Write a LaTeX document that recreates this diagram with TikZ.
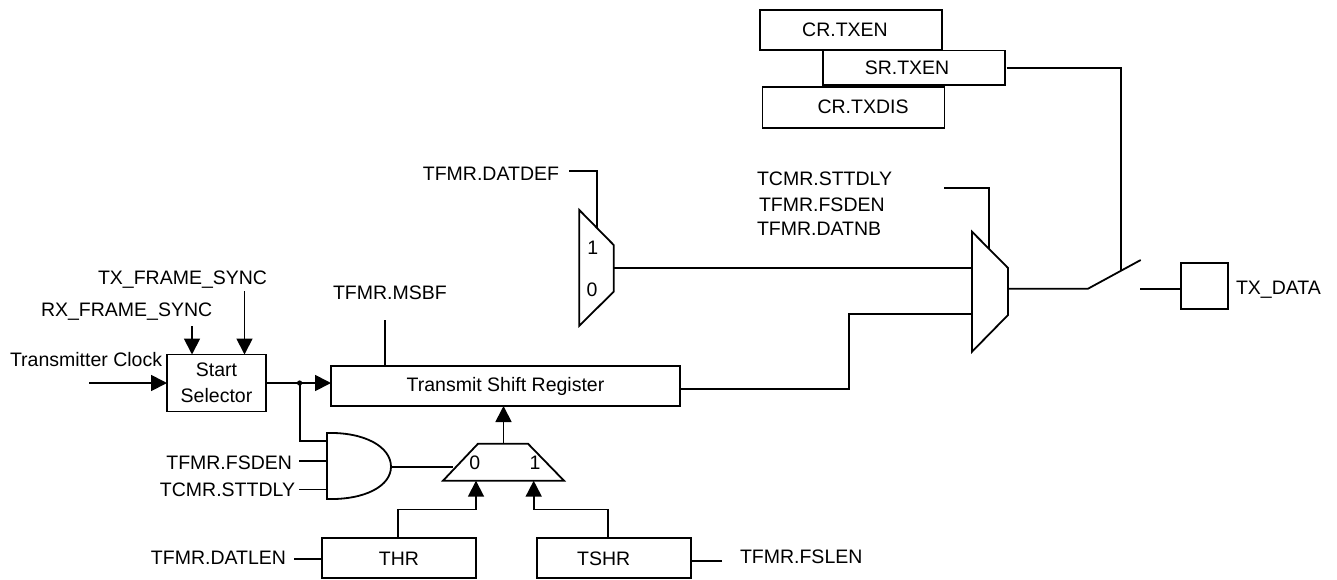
\documentclass[tikz,border=0pt]{standalone}
\usepackage{fontspec}
\setmainfont{Liberation Sans}
\usetikzlibrary{arrows.meta, positioning, calc}

\begin{document}
\begin{tikzpicture}[
  x=1pt, y=-1pt,
  line width=1.8pt,
  every node/.style={inner sep=0pt, outer sep=0pt, font=\fontsize{19.5}{24.5}\selectfont},
  regbox/.style={draw, align=center, minimum height=40pt, minimum width=182pt},
  sigtext/.style={text height=14pt, text depth=0pt},
  arrow/.style={-{Triangle[length=16pt, width=16pt]}},
  ]
  \useasboundingbox (0,0) rectangle (1337,579);

  % Enable registers
  \node[regbox] (crtxen) at (851,30) {\hspace*{-12pt}CR.TXEN};
  \node[regbox, minimum height=34.5pt] (srtxen) at (914,67.7) {\hspace*{-14pt}SR.TXEN};
  \node[regbox, minimum height=41pt] (crtxdis) at (853.5,107.2) {\hspace*{19pt}CR.TXDIS};

  % Start selector and its inputs
  \node[regbox, minimum width=99pt, minimum height=57pt, font=\fontsize{19.5}{25.5}\selectfont] (selector) at (216.5,383) {Start\\Selector};
  \node[sigtext, anchor=west] (clock) at (10,359) {Transmitter Clock};
  \node[sigtext, anchor=west] (rxsync) at (41,309) {RX\_FRAME\_SYNC};
  \node[sigtext, anchor=west] (txsync) at (98,277) {TX\_FRAME\_SYNC};

  % Shift register
  \node[regbox, right=65pt of selector, yshift=-3pt, minimum width=349pt] (shiftreg) {Transmit Shift Register};
  \node[sigtext, anchor=west] (msbf) at (333,292.7) {TFMR.MSBF};

  % Holding registers
  \node[regbox, minimum width=154pt] (thr) at (399,558.3) {THR};
  \node[regbox, right=60.7pt of thr, minimum width=154pt] (tshr) {\hspace*{-20pt}TSHR};
  \node[sigtext, anchor=east] (datlen) at (286,557.7) {TFMR.DATLEN};
  \node[sigtext, anchor=west] (fslen) at (740,556.5) {TFMR.FSLEN};

  % Gate inputs
  \node[sigtext, anchor=east] (fsden) at (292,462.7) {TFMR.FSDEN};
  \node[sigtext, anchor=east] (sttdly) at (295,489.3) {TCMR.STTDLY};

  % Upper labels
  \node[sigtext, anchor=east] (datdef) at (559,173.3) {TFMR.DATDEF};
  \node[sigtext, anchor=west] (muxsttdly) at (757,178.3) {TCMR.STTDLY};
  \node[sigtext, anchor=west] (muxfsden) at (759,204.3) {TFMR.FSDEN};
  \node[sigtext, anchor=west] (muxdatnb) at (757,228) {TFMR.DATNB};

  % Output pin
  \node[draw, minimum width=46.7pt, minimum height=46pt] (pin) at (1204.7,285.7) {};
  \node[sigtext, right=8pt of pin, yshift=-2pt] (txdata) {TX\_DATA};

  % AND gate
  \coordinate (andtop) at (327,433);
  \coordinate (andbot) at (327,499);
  \coordinate (andout) at (391,466.7);
  \draw (andtop) .. controls (365,432) and (391,447) .. (andout) .. controls (391,486) and (365,500) .. (andbot) -- cycle;

  % Length mux
  \coordinate (lena) at (478,443.7);
  \coordinate (lenb) at (528,443.7);
  \coordinate (lenc) at (564,480.7);
  \coordinate (lend) at (443,480.7);
  \draw (lena) -- (lenb) -- (lenc) -- (lend) -- cycle;
  \node (lenzero) at (474.7,462.7) {0};
  \node (lenone) at (535,462.7) {1};

  % Default data mux
  \coordinate (defa) at (579.3,210);
  \coordinate (defb) at (613.7,245);
  \coordinate (defc) at (613.7,291.7);
  \coordinate (defd) at (579.3,325.7);
  \draw (defa) -- (defb) -- (defc) -- (defd) -- cycle;
  \node (defone) at (592.7,248) {1};
  \node (defzero) at (592,290) {0};

  % Output mux
  \coordinate (outa) at (972,231.7);
  \coordinate (outb) at (1008,268);
  \coordinate (outc) at (1008,315);
  \coordinate (outd) at (972,351.7);
  \draw (outa) -- (outb) -- (outc) -- (outd) -- cycle;

  % Switch
  \coordinate (swin) at (1088,288.7);
  \coordinate (swtip) at (1140.7,260);
  \coordinate (swhinge) at (1121,270);
  \coordinate (swout) at (1140,288.7);
  \draw (outb |- swin) -- (swin) -- (swtip);
  \draw (swout) -- (swout -| pin.west);
  \draw (srtxen.east) ++(1.5,0) -- (swhinge |- srtxen.east) -- (swhinge);

  % Arrows into the selector
  \coordinate (clockin) at (89,383);
  \coordinate (rxin) at (192,326);
  \coordinate (txin) at (244.5,291);
  \draw[arrow] (clockin) -- (clockin -| selector.west);
  \draw[arrow] (rxin) -- (rxin |- selector.north);
  \draw[arrow] (txin) -- (txin |- selector.north);

  % Selector to register and gate
  \coordinate (tap) at (299.6,383);
  \draw[arrow] (selector.east) -- (selector.east -| shiftreg.west);
  \fill (tap) circle (2.6pt);
  \draw (tap) |- (andtop |- 0,441);
  \coordinate (fsdenin) at (299,461);
  \coordinate (sttdlyin) at (299,489.5);
  \draw (fsdenin) -- (fsdenin -| andtop);
  \draw (sttdlyin) -- (sttdlyin -| andtop);
  \draw (andout) -- (453,466.7);

  % Register controls
  \coordinate (msbfin) at (385,320);
  \draw (msbfin) -- (msbfin |- shiftreg.north);
  \coordinate (lenout) at (503.5,443.7);
  \draw[arrow] (lenout) -- (lenout |- shiftreg.south);
  \coordinate (thrup) at (398,509.5);
  \coordinate (thrin) at (476,480.7);
  \coordinate (tshrup) at (608,509.5);
  \coordinate (tshrin) at (533.7,480.7);
  \draw[arrow] (thrup |- thr.north) -- (thrup) -| (thrin);
  \draw[arrow] (tshrup |- tshr.north) -- (tshrup) -| (tshrin);
  \coordinate (datlenin) at (294,559);
  \coordinate (fslenin) at (722,561);
  \draw (datlenin) -- (datlenin -| thr.west);
  \draw (fslenin) -- (fslenin -| tshr.east);

  % Data paths into the output mux
  \coordinate (defout) at (613.7,268);
  \draw (defout) -- (defout -| outa);
  \coordinate (regout) at (849,389);
  \draw (shiftreg.east |- regout) -- (regout) |- (outa |- 0,314.3);

  % Select lines
  \coordinate (defstart) at (569,170.7);
  \coordinate (defsel) at (597,228);
  \draw (defstart) -| (defsel);
  \coordinate (outstart) at (944,188);
  \coordinate (outsel) at (989,249);
  \draw (outstart) -| (outsel);

\end{tikzpicture}
\end{document}
